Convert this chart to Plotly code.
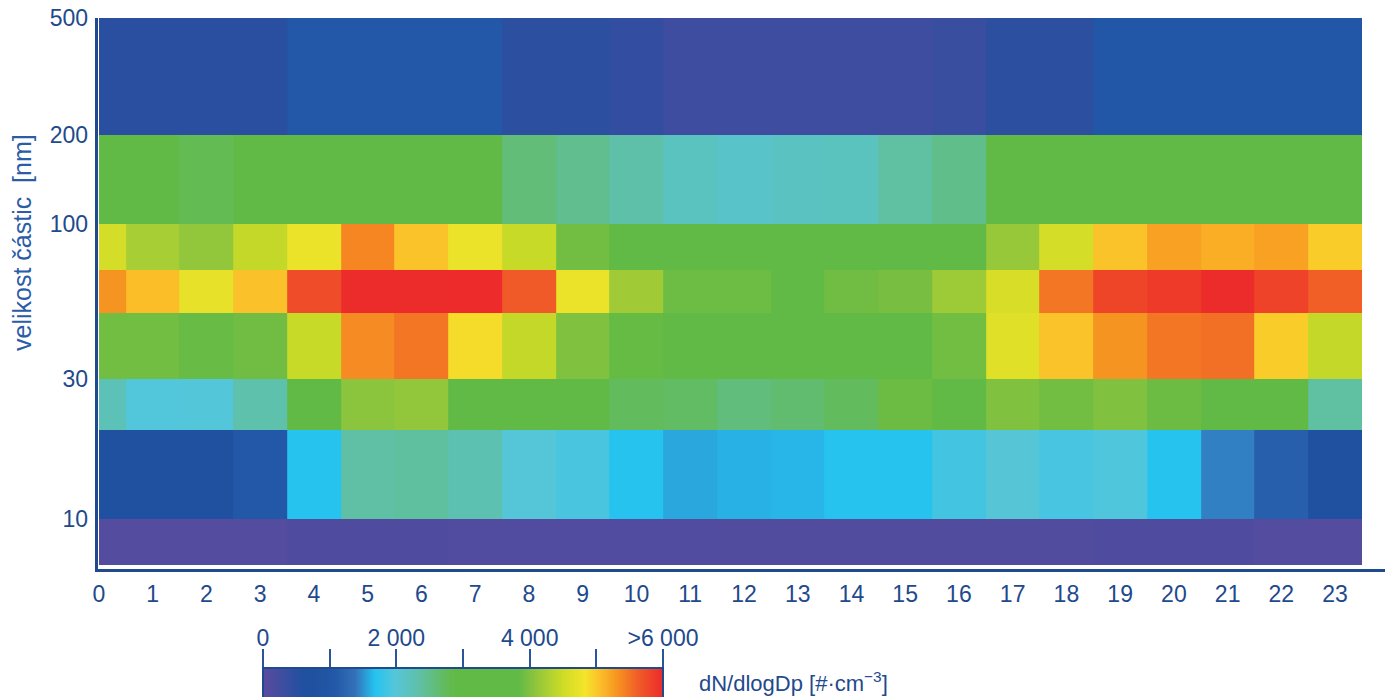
import math
import plotly.graph_objects as go

# ---------------- data ----------------
hours = list(range(24))
hour_labels = [str(h) for h in hours]

# particle size bin edges [nm] (rows bottom -> top)
size_edges = [7, 10, 20, 30, 50, 70, 100, 200, 500]

# dN/dlogDp [#/cm3] per hour for each size bin
bin_7_10 = [70, 70, 70, 70, 120, 120, 120, 100, 100, 100, 100, 100,
            90, 90, 90, 90, 90, 90, 90, 120, 120, 120, 70, 70]
bin_10_20 = [800, 800, 800, 1080, 1690, 2355, 2380, 2270, 1995, 1910, 1690, 1582,
             1615, 1633, 1690, 1690, 1870, 2010, 1900, 1950, 1690, 1438, 1170, 800]
bin_20_30 = [2225, 1960, 1975, 2310, 3300, 4060, 4115, 3300, 3300, 3300, 2730, 2700,
             2570, 2635, 2730, 3894, 3300, 4001, 3926, 4001, 3894, 3400, 3400, 2370]
bin_30_50 = [3926, 3926, 3870, 3920, 4460, 5365, 5480, 4880, 4435, 4001, 3860, 3500,
             3500, 3500, 3500, 3500, 3926, 4660, 5030, 5315, 5480, 5515, 4975, 4435]
bin_50_70 = [5315, 5060, 4720, 5040, 5745, 5985, 5985, 5990, 5640, 4750, 4200, 3900,
             3900, 3500, 3920, 3960, 4180, 4590, 5485, 5800, 5880, 5985, 5810, 5610]
bin_70_100 = [4550, 4245, 4115, 4435, 4740, 5390, 5030, 4750, 4460, 3926, 3500, 3500,
              3500, 3500, 3500, 3500, 3500, 4135, 4550, 5030, 5240, 5160, 5240, 4975]
bin_100_200 = [3300, 3300, 2790, 3300, 3300, 3300, 3300, 3300, 2590, 2470, 2325, 2165,
               2100, 2150, 2180, 2370, 2495, 3300, 3300, 3300, 3300, 3300, 3300, 3300]
bin_200_500 = [500, 500, 500, 500, 1050, 1050, 1050, 1050, 480, 480, 405, 295,
               295, 295, 295, 295, 335, 480, 480, 1000, 1000, 1000, 1000, 1000]

z_rows = [bin_7_10, bin_10_20, bin_20_30, bin_30_50,
          bin_50_70, bin_70_100, bin_100_200, bin_200_500]

y_tick_vals = [10, 30, 100, 200, 500]
y_tick_text = ["10", "30", "100", "200", "500"]

cb_major_vals = [0, 2000, 4000, 6000]
cb_major_text = ["0", "2 000", "4 000", ">6 000"]
cb_minor_vals = [1000, 3000, 5000]

z_min, z_max = 0, 6000

colorscale = [
    [0.000, "#5b4b9f"],
    [0.100, "#2050a0"],
    [0.130, "#1f519f"],
    [0.180, "#2358a8"],
    [0.230, "#3370b8"],
    [0.280, "#25c3f0"],
    [0.330, "#55c6da"],
    [0.390, "#5fc0a8"],
    [0.460, "#62bb57"],
    [0.480, "#62ba46"],
    [0.640, "#62ba46"],
    [0.675, "#89c33e"],
    [0.750, "#cedc26"],
    [0.805, "#f4e52a"],
    [0.840, "#fbc12a"],
    [0.880, "#f79a20"],
    [0.940, "#f05a28"],
    [1.000, "#ec2a2a"],
]

# ---------------- layout geometry ----------------
W, H = 1385, 697
ML, MR, MT, MB = 99, 23, 18, 0
PW = W - ML - MR
PH = H - MT - MB


def px_x(x):
    return (x - ML) / PW


def px_y(y):
    return (H - MB - y) / PH


navy = "#1f4a8c"
tick_col = "#21498b"
title_col = "#2b5ca8"
font_fam = "Arial, 'Liberation Sans', sans-serif"

fig = go.Figure()

fig.add_trace(go.Heatmap(
    x=hours,
    y=size_edges,
    z=z_rows,
    zmin=z_min, zmax=z_max,
    colorscale=colorscale,
    showscale=True,
    colorbar=dict(
        orientation="h",
        x=px_x(263), xanchor="left",
        y=px_y(668), yanchor="top",
        len=400, lenmode="pixels",
        thickness=30, thicknessmode="pixels",
        xpad=0, ypad=0,
        outlinewidth=2, outlinecolor=navy,
        showticklabels=False, ticks="",
    ),
    hoverinfo="skip",
))

# helper axis for the colour-bar ticks (drawn above the bar)
fig.add_trace(go.Scatter(x=[], y=[], xaxis="x2", yaxis="y2",
                         showlegend=False, hoverinfo="skip"))

fig.update_layout(
    width=W, height=H,
    margin=dict(l=ML, r=MR, t=MT, b=MB, pad=0, autoexpand=False),
    paper_bgcolor="white",
    plot_bgcolor="white",
    font=dict(family=font_fam, color=tick_col),
    xaxis=dict(
        range=[0, 23.5],
        tickmode="array", tickvals=hours, ticktext=hour_labels,
        ticks="", showgrid=False, zeroline=False, showline=False,
        tickfont=dict(size=23, color=tick_col),
        ticklabelstandoff=13,
        anchor="y",
    ),
    yaxis=dict(
        type="log",
        range=[math.log10(size_edges[0]), math.log10(size_edges[-1])],
        domain=[px_y(565), 1],
        tickmode="array", tickvals=y_tick_vals, ticktext=y_tick_text,
        ticks="", showgrid=False, zeroline=False, showline=False,
        tickfont=dict(size=23, color=tick_col),
        ticklabelstandoff=10,
        anchor="x",
    ),
    xaxis2=dict(
        domain=[px_x(263), px_x(663)],
        range=[z_min, z_max],
        anchor="y2", side="top",
        tickmode="array", tickvals=cb_major_vals, ticktext=cb_major_text,
        ticks="outside", ticklen=18, tickwidth=1.5, tickcolor="#2a5599",
        minor=dict(tickvals=cb_minor_vals, ticks="outside", ticklen=18,
                   tickwidth=1.5, tickcolor="#2a5599", showgrid=False),
        showgrid=False, zeroline=False, showline=False,
        tickfont=dict(size=23, color=tick_col),
        ticklabelstandoff=-6,
        fixedrange=True,
    ),
    yaxis2=dict(
        domain=[0, px_y(668)],
        range=[0, 1],
        anchor="x2", visible=False, fixedrange=True,
    ),
    annotations=[
        dict(text="velikost částic  [nm]", textangle=-90,
             x=px_x(22), y=px_y(243), xref="paper", yref="paper",
             xanchor="center", yanchor="middle", showarrow=False,
             font=dict(size=25, color=title_col, family=font_fam)),
        dict(text="dN/dlogDp [#·cm<sup>−3</sup>]",
             x=px_x(697), y=px_y(682), xref="paper", yref="paper",
             xanchor="left", yanchor="middle", showarrow=False,
             font=dict(size=22, color=navy, family=font_fam)),
    ],
    shapes=[
        dict(type="line", xref="paper", yref="paper",
             x0=px_x(96.5), x1=px_x(96.5), y0=px_y(572), y1=px_y(18),
             line=dict(color=navy, width=3)),
        dict(type="line", xref="paper", yref="paper",
             x0=px_x(95), x1=px_x(1385), y0=px_y(570.5), y1=px_y(570.5),
             line=dict(color=navy, width=3)),
    ],
)

fig.write_html(
    "out.html",
    config={"displayModeBar": False},
    post_script="document.body.style.margin='0px';document.body.style.overflow='hidden';",
)
